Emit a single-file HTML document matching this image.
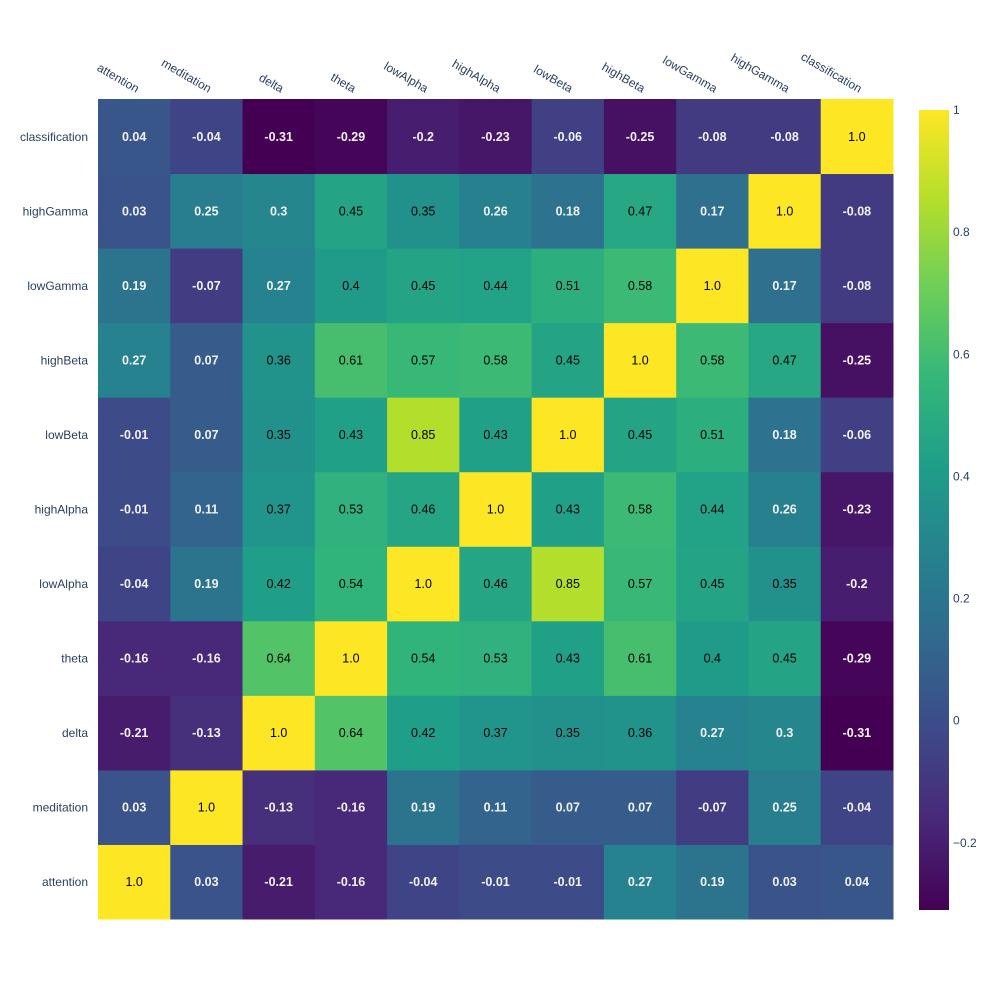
<!DOCTYPE html>
<html><head><meta charset="utf-8">
<style>body{margin:0;background:#fff;font-family:"Liberation Sans",Arial,sans-serif}</style>
</head><body>
<svg id="chart" width="1000" height="1000" xmlns="http://www.w3.org/2000/svg" style="font-family:'Liberation Sans',Arial,sans-serif">
<defs>
<linearGradient id="viridis" x1="0" y1="1" x2="0" y2="0">
<stop offset="0" stop-color="#440154"/><stop offset="0.111" stop-color="#482878"/><stop offset="0.222" stop-color="#3e4989"/><stop offset="0.333" stop-color="#31688e"/><stop offset="0.444" stop-color="#26828e"/><stop offset="0.556" stop-color="#1f9e89"/><stop offset="0.667" stop-color="#35b779"/><stop offset="0.778" stop-color="#6ece58"/><stop offset="0.889" stop-color="#b5de2b"/><stop offset="1" stop-color="#fde725"/>
</linearGradient>
</defs>
<g id="cells"></g><g id="labels"></g>
<rect x="919" y="110" width="30" height="800" fill="url(#viridis)"/>
<g id="cbticks"></g>
</svg>
<script>
const categories = ["attention","meditation","delta","theta","lowAlpha","highAlpha","lowBeta","highBeta","lowGamma","highGamma","classification"];
// rows in category order (bottom to top)
const zAttention = [1.0,0.03,-0.21,-0.16,-0.04,-0.01,-0.01,0.27,0.19,0.03,0.04];
const zMeditation = [0.03,1.0,-0.13,-0.16,0.19,0.11,0.07,0.07,-0.07,0.25,-0.04];
const zDelta = [-0.21,-0.13,1.0,0.64,0.42,0.37,0.35,0.36,0.27,0.3,-0.31];
const zTheta = [-0.16,-0.16,0.64,1.0,0.54,0.53,0.43,0.61,0.4,0.45,-0.29];
const zLowAlpha = [-0.04,0.19,0.42,0.54,1.0,0.46,0.85,0.57,0.45,0.35,-0.2];
const zHighAlpha = [-0.01,0.11,0.37,0.53,0.46,1.0,0.43,0.58,0.44,0.26,-0.23];
const zLowBeta = [-0.01,0.07,0.35,0.43,0.85,0.43,1.0,0.45,0.51,0.18,-0.06];
const zHighBeta = [0.27,0.07,0.36,0.61,0.57,0.58,0.45,1.0,0.58,0.47,-0.25];
const zLowGamma = [0.19,-0.07,0.27,0.4,0.45,0.44,0.51,0.58,1.0,0.17,-0.08];
const zHighGamma = [0.03,0.25,0.3,0.45,0.35,0.26,0.18,0.47,0.17,1.0,-0.08];
const zClassification = [0.04,-0.04,-0.31,-0.29,-0.2,-0.23,-0.06,-0.25,-0.08,-0.08,1.0];
const zRows = [zAttention,zMeditation,zDelta,zTheta,zLowAlpha,zHighAlpha,zLowBeta,zHighBeta,zLowGamma,zHighGamma,zClassification];
const cbTicks = [-0.2,0,0.2,0.4,0.6,0.8,1];
const cbTickLabels = ["\u22120.2","0","0.2","0.4","0.6","0.8","1"];

const zmin=-0.31, zmax=1;
const X0=98,X1=893,Y0=99,Y1=919;
const n=categories.length, cw=(X1-X0)/n, ch=(Y1-Y0)/n;
const xPos=i=>X0+i*cw;
const yPos=j=>Y1-(j+1)*ch;
const stops=["#440154","#482878","#3e4989","#31688e","#26828e","#1f9e89","#35b779","#6ece58","#b5de2b","#fde725"];
function hex(h){return [1,3,5].map(k=>parseInt(h.substr(k,2),16));}
function color(v){let t=(v-zmin)/(zmax-zmin);t=Math.max(0,Math.min(1,t));const p=t*(stops.length-1);const i=Math.min(Math.floor(p),stops.length-2);const f=p-i;const a=hex(stops[i]),b=hex(stops[i+1]);return "rgb("+a.map((x,k)=>Math.round(x+(b[k]-x)*f)).join(",")+")";}
const NS="http://www.w3.org/2000/svg";
const cells=document.getElementById('cells'),labels=document.getElementById('labels');
function mk(tag,attrs,parent){const e=document.createElementNS(NS,tag);for(const k in attrs)e.setAttribute(k,attrs[k]);parent.appendChild(e);return e;}
zRows.forEach((row,j)=>{row.forEach((v,i)=>{
  const r=mk('rect',{x:xPos(i),y:yPos(j),width:cw+0.5,height:ch+0.5,fill:color(v)},cells);
  
  
  const dark=v<0.33;
  const t=mk('text',{x:xPos(i)+cw/2,y:yPos(j)+ch/2+4.5,'text-anchor':'middle','font-size':12.5,fill:dark?'#f2f2f2':'#000','font-weight':dark?'bold':'normal'},labels);
  t.textContent=(v===1?"1.0":String(v));
  
  
});});
categories.forEach((c,i)=>{
  const t=mk('text',{x:88,y:yPos(i)+ch/2+4.5,'text-anchor':'end','font-size':12,fill:'#2a3f5f'},labels);
  t.textContent=c;
  
  
  const cx=xPos(i)+cw/2+2, cy=93;
  const u=mk('text',{x:cx,y:cy,'text-anchor':'end','font-size':12,fill:'#2a3f5f',transform:'rotate(30 '+cx+' '+cy+')'},labels);
  u.textContent=c;
  
  
});
const cbg=document.getElementById('cbticks');
const cbY=v=>910-(v-zmin)/(zmax-zmin)*800;
cbTicks.forEach((v,k)=>{
  const t=mk('text',{x:953,y:cbY(v)+4,'font-size':12,fill:'#2a3f5f'},cbg);
  t.textContent=cbTickLabels[k];
  
  
});
</script>
</body></html>
